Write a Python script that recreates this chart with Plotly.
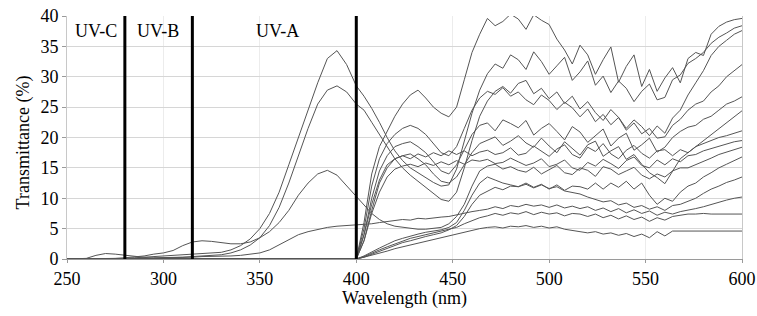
import plotly.graph_objects as go

# ---------------- data ----------------
UV_WL = [250, 255, 260, 265, 270, 275, 280, 285, 290, 295, 300, 305, 310, 315, 320, 325,
         330, 335, 340, 345, 350, 355, 360, 365, 370, 375, 380, 385, 390, 395, 400]

VIS_WL = [400, 404, 408, 412, 416, 420, 424, 428, 432, 436, 440, 444, 448, 452, 456, 460,
          464, 468, 472, 476, 480, 484, 488, 492, 496, 500, 504, 508, 512, 516, 520, 524,
          528, 532, 536, 540, 544, 548, 552, 556, 560, 564, 568, 572, 576, 580, 584, 588,
          592, 596, 600]

# UV parts (250-400 nm) of the samples that transmit UV
uv_a = [0, 0, 0, 0, 0, 0, 0.1, 0.2, 0.3, 0.3, 0.4, 0.5, 0.6, 0.7, 0.8, 0.9,
        1.1, 1.5, 2.2, 3.3, 5.0, 7.5, 11.0, 15.5, 20.0, 24.5, 29.0, 33.0, 34.3, 32.0, 28.5]
uv_b = [0, 0, 0, 0, 0, 0, 0, 0.1, 0.1, 0.2, 0.2, 0.3, 0.3, 0.4, 0.5, 0.6,
        0.7, 1.0, 1.5, 2.3, 3.5, 5.5, 8.5, 12.5, 17.0, 21.5, 25.5, 27.8, 28.5, 27.5, 25.5]
uv_c = [0, 0, 0, 0, 0, 0.1, 0.2, 0.3, 0.5, 0.8, 1.0, 1.4, 2.2, 2.8, 3.0, 2.9,
        2.7, 2.5, 2.5, 2.8, 3.5, 4.5, 6.0, 8.0, 10.5, 12.5, 14.0, 14.6, 13.8, 12.0, 10.2]
uv_d = [0, 0, 0, 0, 0, 0, 0, 0, 0.1, 0.1, 0.2, 0.2, 0.3, 0.3, 0.4, 0.4,
        0.5, 0.5, 0.6, 0.8, 1.0, 1.5, 2.3, 3.2, 4.0, 4.5, 4.9, 5.2, 5.4, 5.5, 5.6]
uv_e = [0, 0, 0.1, 0.6, 0.9, 0.8, 0.6, 0.4, 0.2, 0.1, 0.05, 0, 0, 0, 0, 0,
        0, 0, 0, 0, 0, 0, 0, 0, 0, 0, 0, 0, 0, 0, 0]
uv_zero = [0, 0, 0, 0, 0, 0, 0, 0, 0, 0, 0, 0, 0, 0, 0, 0,
           0, 0, 0, 0, 0, 0, 0, 0, 0, 0, 0, 0, 0, 0, 0]

# visible parts (400-600 nm)
vis_1 = [0, 6, 14, 18.5, 21, 23.5, 25.5, 27, 27.8, 26.5, 25, 24, 23.4, 25, 29.5, 34,
         37, 39.6, 38.4, 39.1, 40.3, 39.5, 37.8, 40.2, 39.3, 38.6, 36.2, 34.4, 32.1, 35.2, 33.6, 30.4,
         32.8, 34.9, 29.1, 31.7, 33.6, 28.4, 31.2, 27.6, 29.8,
         31.5, 29, 33, 34, 33.5, 37, 38.3, 39, 39.4, 39.6]
vis_2 = [28.5, 26.8, 24.8, 22.5, 20, 17.8, 16.2, 15, 14.2, 13.4, 12.6, 12, 12.2, 14.8, 19.5, 24,
         27.8, 30.5, 32.1, 31.4, 33.6, 32.8, 31.2, 34.1, 32.5, 30.4, 31.8, 33.2, 29.4, 30.8, 32.6, 28.6,
         30.1, 27.4, 29.3, 28.1, 25.9, 27.6, 28.8, 26.2, 26.6,
         29.5, 30.3, 32.2, 33, 34, 35.5, 36.5, 37.2, 38, 38.4]
vis_3 = [25.5, 24.5, 22.5, 20.5, 18.5, 16.5, 15, 13.8, 12.8, 11.8, 10.8, 9.8, 9.5, 11, 15, 19.5,
         23.5, 26, 27.6, 28.4, 27.3, 28.9, 29.4, 27.2, 28.1, 26.4, 27.5, 25.6, 26.8, 24.7, 25.9, 24.1,
         22.8, 24.6, 23.3, 21.5, 22.9, 21.8, 20.3, 21.9, 20.7,
         23.2, 24.5, 27, 29, 31, 33.5, 35, 36, 37, 37.6]
vis_4 = [0, 5, 12, 16.5, 19, 20.5, 21.5, 22, 21.5, 20.5, 19, 17.5, 17, 18.5, 21.5, 24.5,
         26.5, 27.6, 27.1, 28.2, 26.8, 27.5, 26.2, 25.4, 27.0, 26.1, 24.6, 25.8, 24.9, 23.4, 24.7, 22.6,
         23.8, 22.1, 23.3, 21.2, 22.4, 20.6, 21.5, 19.9, 20.1,
         22, 23, 24.5, 25.5, 26, 27.5, 28.5, 30, 31, 32]
vis_5 = [0, 4, 10, 14.5, 17, 18.5, 19, 19.3, 18.5, 17.5, 16, 14.5, 14, 15.5, 18, 20.5,
         22, 22.4, 21.1, 22.9, 22.3, 21.6, 22.8, 20.4, 21.5, 22.3, 21.0, 19.6, 21.8, 20.9, 19.2, 20.3,
         21.4, 18.6, 19.9, 20.7, 17.9, 18.8, 19.9, 17.6, 18.4,
         20, 21, 21.7, 22, 23, 23.5, 24.5, 25.5, 26, 26.7]
vis_6 = [0, 3, 8, 12.5, 15, 16.5, 17, 17.3, 16.5, 15.5, 14, 12.8, 12.5, 13.5, 15.5, 17.5,
         19, 19.5, 20.1, 18.7, 19.4, 20.3, 19.1, 18.4, 19.9, 18.6, 17.5, 19.3, 18.2, 17.1, 18.8, 19.4,
         16.9, 17.8, 18.5, 16.4, 17.2, 15.6, 14.2, 13.4, 12.4,
         14.5, 16.5, 17.5, 18.5, 19.5, 20.5, 21.5, 22.5, 23.5, 24.4]
vis_7 = [0, 4, 9, 13, 15.5, 16.5, 17, 16.5, 17.3, 16.8, 17.5, 17, 17.8, 17.2, 17.8, 17,
         17.6, 17.9, 17.2, 17.5, 18.3, 17.1, 17.4, 18.6, 17.8, 16.9, 18.1, 18.8, 17.2, 16.6, 18.4, 17.7,
         19.0, 17.3, 16.5, 17.9, 18.7, 17.4, 16.6, 17.8, 18,
         17, 18, 17.5, 18.5, 19, 19.5, 20, 20.3, 20.7, 21.1]
vis_8 = [0, 3, 7.5, 11, 13.5, 14.8, 15.3, 15.6, 15.2, 15.8, 15.4, 16, 15.5, 16.2, 15.6, 16.3,
         16.1, 16.4, 15.7, 15.9, 16.6, 16.0, 15.4, 15.8, 16.5, 15.2, 15.6, 16.3, 15.0, 14.6, 15.9, 15.3,
         16.4, 15.7, 14.9, 16.2, 16.8, 15.4, 15.0, 16.3, 15.5,
         16.5, 16, 17, 17.2, 17.8, 18.2, 18.6, 19, 19.3, 19.5]
vis_9 = [10.2, 8.8, 7.5, 6.5, 5.8, 5.4, 5.2, 5.0, 4.9, 4.9, 5.0, 5.2, 5.8, 7, 9, 12,
         14.5, 15.3, 15.6, 14.8, 15.2, 14.6, 14.3, 15.1, 14.0, 14.7, 15.4, 14.2, 13.9, 15.0, 14.6, 13.6,
         15.2, 14.8, 13.9, 14.5, 15.1, 13.8, 13.2, 14.0, 13.5,
         14.5, 15, 15, 15.5, 16, 16.6, 17.2, 17.6, 18, 18.4]
vis_10 = [0, 0.5, 1.2, 1.8, 2.4, 3, 3.4, 3.8, 4.1, 4.4, 4.6, 4.8, 5.2, 6, 8, 10.5,
          12.5, 13.5, 13, 12.5, 12.2, 11.9, 12.5, 11.8, 12.3, 11.5, 12.2, 11.3, 12, 11.9, 11.5, 12.5,
          11.5, 12.5, 11.8, 12.8, 11.5, 12.5, 10.5, 9, 10,
          9.5, 11, 12, 12.5, 13.5, 14.2, 15, 15.6, 16.2, 16.8]
vis_11 = [0, 0.3, 0.8, 1.3, 1.8, 2.3, 2.7, 3, 3.4, 3.7, 4, 4.3, 4.8, 5.5, 7, 9,
          10.5, 11.2, 11.8, 11.4, 12, 11.9, 12.3, 11.7, 12.2, 11.6, 11.9, 11.2, 11, 10.7, 10.2, 9.8,
          9.4, 9.6, 8.9, 9.2, 8.5, 8.8, 8.2, 8.6, 8,
          8.8, 9, 9.5, 10, 10.8, 11.5, 12, 12.6, 13, 13.5]
vis_12 = [5.6, 5.7, 5.8, 6, 6.2, 6.3, 6.5, 6.4, 6.7, 6.6, 6.8, 6.9, 7, 7.3, 7.5, 7.8,
          8, 8.2, 8.6, 8.3, 8.8, 8.6, 9, 8.7, 8.9, 8.5, 8.9, 8.4, 8.7, 8.3, 8.6, 8,
          8.4, 7.8, 8.3, 7.6, 8.1, 7.5, 7.9, 7.2, 7.7,
          7.4, 7.8, 8, 8.3, 8.6, 9, 9.4, 9.7, 10, 10.2]
vis_13 = [0, 0.4, 1, 1.5, 2, 2.5, 3, 3.4, 3.7, 4, 4.3, 4.5, 4.8, 5.2, 5.8, 6.3,
          6.8, 7.1, 7.5, 7.2, 7.6, 7.4, 7.8, 7.3, 7.7, 7.4, 7.6, 7.1, 7.5, 7.4, 7.0, 7.4,
          6.8, 7.2, 6.6, 7.1, 6.5, 6.9, 6.2, 6.8, 6.4,
          7, 7.2, 7.4, 7.4, 7.5, 7.4, 7.4, 7.4, 7.4, 7.4]
vis_14 = [0, 0.3, 0.6, 1, 1.3, 1.7, 2, 2.3, 2.6, 2.9, 3.2, 3.5, 3.8, 4.1, 4.5, 4.8,
          5, 5.2, 5.3, 5.1, 5.4, 5.3, 5.5, 5.2, 5.4, 5.1, 5.3, 4.9, 4.7, 4.5, 4.3, 4.5,
          4.1, 4.3, 3.9, 4.2, 3.7, 4.1, 3.5, 4.5, 3.8,
          4.6, 4.6, 4.6, 4.7, 4.6, 4.6, 4.6, 4.6, 4.6, 4.6]

BAND_EDGES = [280, 315, 400]
BAND_LABELS = ["UV-C", "UV-B", "UV-A"]
BAND_LABEL_X = [265, 297, 359]

X_TICKS = [250, 300, 350, 400, 450, 500, 550, 600]
Y_TICKS = [0, 5, 10, 15, 20, 25, 30, 35, 40]

# ---------------- figure ----------------
LINE = dict(color="#555555", width=1)
FONT = "Liberation Serif"

fig = go.Figure()

# samples with UV transmission: UV part joined to its visible part
uv_pairs = [(uv_a, vis_2), (uv_b, vis_3), (uv_c, vis_9), (uv_d, vis_12), (uv_e, vis_14)]
for uv, vis in uv_pairs:
    fig.add_trace(go.Scatter(x=UV_WL + VIS_WL[1:], y=uv + vis[1:], mode="lines",
                             line=LINE, showlegend=False, hoverinfo="skip"))

# samples opaque in the UV
for vis in [vis_1, vis_4, vis_5, vis_6, vis_7, vis_8, vis_10, vis_11, vis_13]:
    fig.add_trace(go.Scatter(x=UV_WL + VIS_WL[1:], y=uv_zero + vis[1:], mode="lines",
                             line=LINE, showlegend=False, hoverinfo="skip"))

# band boundaries
for edge in BAND_EDGES:
    fig.add_shape(type="line", xref="x", yref="y", x0=edge, x1=edge, y0=0, y1=40,
                  line=dict(color="black", width=3))

for lab, lx in zip(BAND_LABELS, BAND_LABEL_X):
    fig.add_annotation(x=lx, y=37.6, xref="x", yref="y", text=lab, showarrow=False,
                       font=dict(family=FONT, size=18, color="black"),
                       xanchor="center", yanchor="middle")

# axis titles
fig.add_annotation(x=0.5, y=-0.163, xref="paper", yref="paper", text="Wavelength (nm)",
                   showarrow=False, font=dict(family=FONT, size=18, color="black"),
                   xanchor="center", yanchor="middle")
fig.add_annotation(x=-0.064, y=0.479, xref="paper", yref="paper", text="Transmittance (%)",
                   showarrow=False, textangle=-90,
                   font=dict(family=FONT, size=18, color="black"),
                   xanchor="center", yanchor="middle")

fig.update_layout(
    width=757, height=316,
    margin=dict(l=67, r=15, t=16, b=57, autoexpand=False),
    paper_bgcolor="white", plot_bgcolor="white",
    font=dict(family=FONT, size=18, color="black"),
    showlegend=False,
)
fig.update_xaxes(range=[250, 600], tickvals=X_TICKS, showgrid=True, gridcolor="#ececec",
                 gridwidth=1, zeroline=False, showline=True, linecolor="#9a9a9a", linewidth=1,
                 ticks="outside", ticklen=3, tickcolor="#9a9a9a", automargin=False,
                 tickfont=dict(family=FONT, size=18, color="black"))
fig.update_yaxes(range=[0, 40], tickvals=Y_TICKS, showgrid=True, gridcolor="#d6d6d6",
                 gridwidth=1, zeroline=False, showline=True, linecolor="#c8c8c8", linewidth=1,
                 mirror=True, ticks="outside", ticklen=4, tickcolor="#9a9a9a", automargin=False,
                 tickfont=dict(family=FONT, size=18, color="black"))

fig.write_html("out.html", config={"displayModeBar": False},
               post_script="document.body.style.margin='0';document.body.style.padding='0';")
